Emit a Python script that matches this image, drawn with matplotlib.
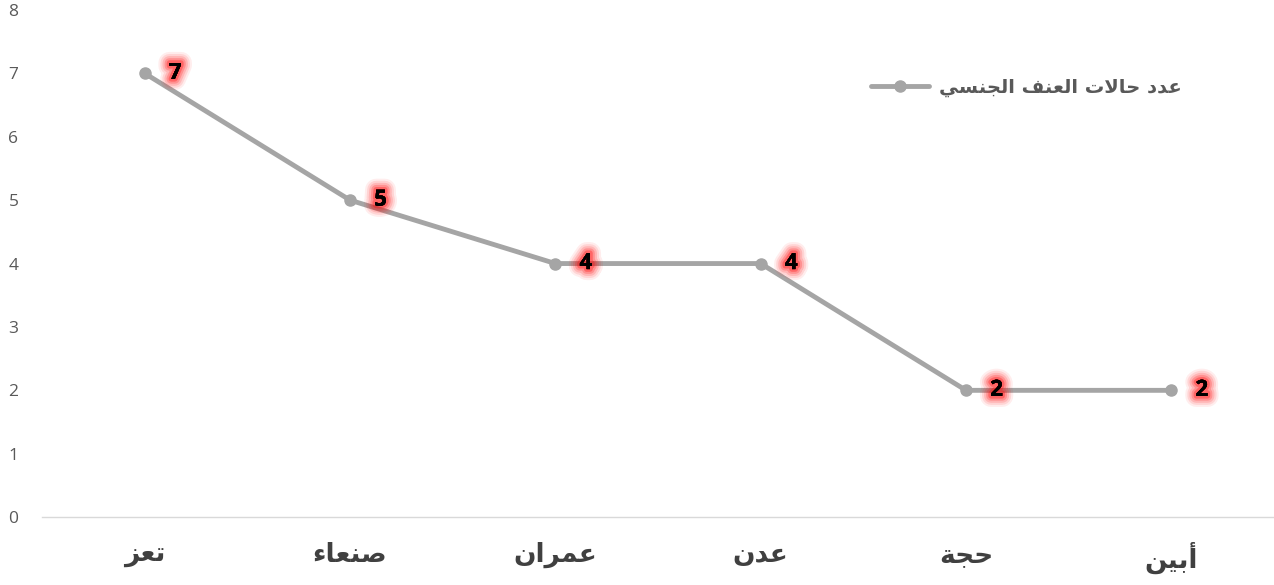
import matplotlib.pyplot as plt
import matplotlib.patheffects as pe

# حروف بأشكالها: (منفصل، نهائي، ابتدائي، وسطي)
FORMS = {
    'ء': (0xFE80, None, None, None),
    'أ': (0xFE83, 0xFE84, None, None),
    'ا': (0xFE8D, 0xFE8E, None, None),
    'ب': (0xFE8F, 0xFE90, 0xFE91, 0xFE92),
    'ة': (0xFE93, 0xFE94, None, None),
    'ت': (0xFE95, 0xFE96, 0xFE97, 0xFE98),
    'ج': (0xFE9D, 0xFE9E, 0xFE9F, 0xFEA0),
    'ح': (0xFEA1, 0xFEA2, 0xFEA3, 0xFEA4),
    'د': (0xFEA9, 0xFEAA, None, None),
    'ر': (0xFEAD, 0xFEAE, None, None),
    'ز': (0xFEAF, 0xFEB0, None, None),
    'س': (0xFEB1, 0xFEB2, 0xFEB3, 0xFEB4),
    'ص': (0xFEB9, 0xFEBA, 0xFEBB, 0xFEBC),
    'ع': (0xFEC9, 0xFECA, 0xFECB, 0xFECC),
    'ف': (0xFED1, 0xFED2, 0xFED3, 0xFED4),
    'ل': (0xFEDD, 0xFEDE, 0xFEDF, 0xFEE0),
    'م': (0xFEE1, 0xFEE2, 0xFEE3, 0xFEE4),
    'ن': (0xFEE5, 0xFEE6, 0xFEE7, 0xFEE8),
    'ي': (0xFEF1, 0xFEF2, 0xFEF3, 0xFEF4),
    'لا': (0xFEFB, 0xFEFC, None, None),
}


def shape_word(word):
    # دمج لام ألف
    chars = []
    i = 0
    while i < len(word):
        if word[i] == 'ل' and i + 1 < len(word) and word[i + 1] == 'ا':
            chars.append('لا')
            i += 2
        else:
            chars.append(word[i])
            i += 1
    out = []
    for k, c in enumerate(chars):
        f = FORMS.get(c)
        if f is None:
            out.append(c)
            continue
        prev_joins = k > 0 and FORMS.get(chars[k - 1], (0, 0, None))[2] is not None
        next_ok = k + 1 < len(chars) and FORMS.get(chars[k + 1], (0, None))[1] is not None
        can_left = f[2] is not None
        if prev_joins and can_left and next_ok:
            cp = f[3]
        elif prev_joins and f[1] is not None:
            cp = f[1]
        elif can_left and next_ok:
            cp = f[2]
        else:
            cp = f[0]
        out.append(chr(cp))
    return ''.join(reversed(out))


def ar(text):
    return ' '.join(shape_word(w) for w in reversed(text.split(' ')))


categories = ['تعز', 'صنعاء', 'عمران', 'عدن', 'حجة', 'أبين']
values = [7, 5, 4, 4, 2, 2]
series_name = 'عدد حالات العنف الجنسي'

fig = plt.figure(figsize=(12.74, 5.85), dpi=100)
ax = fig.add_axes([0.033, 0.116, 0.967, 0.867])

x = list(range(len(categories)))
ax.plot(x, values, color='#A5A5A5', lw=3.5, marker='o', ms=8,
        solid_capstyle='round', label=ar(series_name))

# توهج أحمر ناعم حول الأرقام
glow = [pe.withStroke(linewidth=w, foreground=(1, 0, 0, a)) for w, a in
        [(16, 0.07), (13, 0.10), (10, 0.14), (7, 0.2), (4, 0.3)]] + [pe.Normal()]
for xi, v in zip(x, values):
    ax.annotate(str(v), (xi, v), xytext=(22, 0), textcoords='offset points',
                ha='center', va='center', fontsize=16, fontweight='bold',
                family='Open Sans', color='black', path_effects=glow)

ax.set_xlim(-0.5, len(categories) - 0.5)
ax.set_ylim(0, 8)
ax.set_yticks(range(0, 9))
ax.set_xticks(x)
ax.set_xticklabels([ar(c) for c in categories], fontsize=19, fontweight='bold',
                   color='#404040', family='DejaVu Sans')
for lbl in ax.get_yticklabels():
    lbl.set_family('Open Sans')
ax.tick_params(axis='y', length=0, pad=17, labelsize=12.5, labelcolor='#595959')
ax.tick_params(axis='x', length=0, pad=18)
for s in ['top', 'right', 'left']:
    ax.spines[s].set_visible(False)
ax.spines['bottom'].set_color('#D9D9D9')
ax.spines['bottom'].set_linewidth(1)

leg = ax.legend(loc='center right', bbox_to_anchor=(0.925, 0.848), frameon=False,
                markerfirst=True, handlelength=3.0, borderpad=0, borderaxespad=0,
                handletextpad=0.5,
                prop={'family': 'DejaVu Sans', 'weight': 'bold', 'size': 14})
for t in leg.get_texts():
    t.set_color('#595959')

fig.savefig('out.png', dpi=100)
